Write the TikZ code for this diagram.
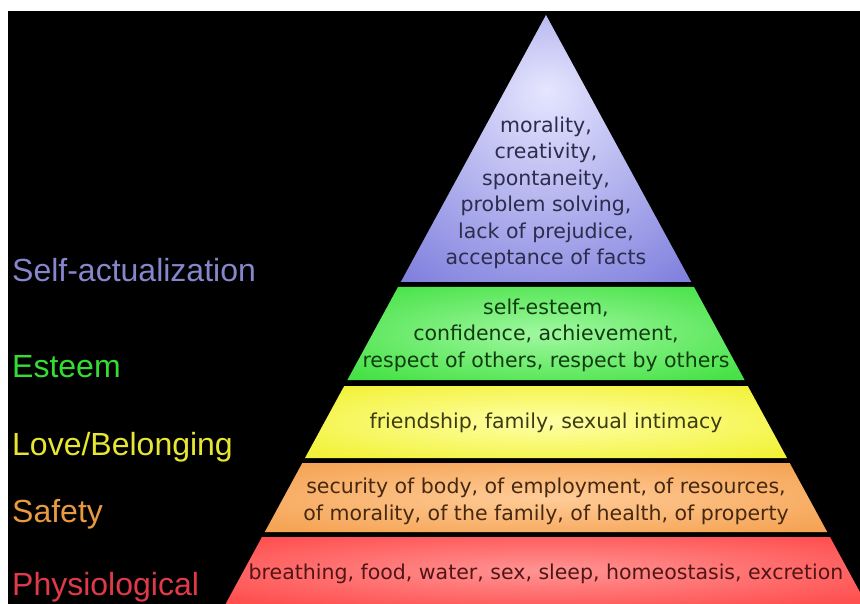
\documentclass[tikz,border=0pt]{standalone}
\usepackage{fontspec}
\setmainfont{DejaVu Sans}
\newfontfamily\labfont{Liberation Sans}
\definecolor{purin}{HTML}{E6E6FF}
\definecolor{purout}{HTML}{8080DE}
\definecolor{grnin}{HTML}{A0F8A0}
\definecolor{grnout}{HTML}{48E248}
\definecolor{yelin}{HTML}{FFFFA8}
\definecolor{yelout}{HTML}{F2F23A}
\definecolor{orgin}{HTML}{FFCC98}
\definecolor{orgout}{HTML}{F5A455}
\definecolor{redin}{HTML}{FF9494}
\definecolor{redout}{HTML}{FF5050}
\definecolor{purtxt}{HTML}{2C2C4C}
\definecolor{grntxt}{HTML}{103C10}
\definecolor{yeltxt}{HTML}{3C3C10}
\definecolor{orgtxt}{HTML}{45280F}
\definecolor{redtxt}{HTML}{501515}
\definecolor{labpur}{HTML}{8686CC}
\definecolor{labgrn}{HTML}{33DD33}
\definecolor{labyel}{HTML}{E6E633}
\definecolor{laborg}{HTML}{E89A40}
\definecolor{labred}{HTML}{E03A4A}
\pgfdeclareradialshading{shpur}{\pgfpoint{0bp}{11bp}}{color(0bp)=(purin); color(38bp)=(purout); color(70bp)=(purout)}
\pgfdeclareradialshading{shgrn}{\pgfpoint{0bp}{0bp}}{color(0bp)=(grnin); color(32bp)=(grnout); color(60bp)=(grnout)}
\pgfdeclareradialshading{shyel}{\pgfpoint{0bp}{0bp}}{color(0bp)=(yelin); color(32bp)=(yelout); color(60bp)=(yelout)}
\pgfdeclareradialshading{shorg}{\pgfpoint{0bp}{0bp}}{color(0bp)=(orgin); color(32bp)=(orgout); color(60bp)=(orgout)}
\pgfdeclareradialshading{shred}{\pgfpoint{0bp}{0bp}}{color(0bp)=(redin); color(32bp)=(redout); color(60bp)=(redout)}
\tikzset{
  ptext/.style={align=center, inner sep=0pt, font=\fontsize{20.5}{26.5}\selectfont},
  lab/.style={anchor=base west, inner sep=0pt, font=\labfont\fontsize{32}{38}\selectfont}
}
\begin{document}
\begin{tikzpicture}[x=1pt,y=-1pt]
\useasboundingbox (0,0) rectangle (860,604);
\fill[white] (0,0) rectangle (860,604);
\fill[black] (8,11) rectangle (860,604);
\begin{scope}
\clip (8,11) rectangle (860,604);
\shade[shading=shpur] (546,15) -- (691.2,282) -- (400.8,282) -- cycle;
\shade[shading=shgrn] (398,287) -- (694,287) -- (744.6,380) -- (347.4,380) -- cycle;
\shade[shading=shyel] (344.2,386) -- (747.8,386) -- (787,458) -- (305,458) -- cycle;
\shade[shading=shorg] (302.3,463) -- (789.7,463) -- (827.2,532) -- (264.8,532) -- cycle;
\shade[shading=shred] (262,537) -- (830,537) -- (866.4,604) -- (225.6,604) -- cycle;
\end{scope}
\node[ptext, text=purtxt] (tsa) at (546,193) {morality,\\creativity,\\spontaneity,\\problem solving,\\lack of prejudice,\\acceptance of facts};
\node[ptext, text=grntxt] (tes) at (546,335) {self-esteem,\\confidence, achievement,\\respect of others, respect by others};
\node[ptext, text=yeltxt] (tlb) at (546,423) {friendship, family, sexual intimacy};
\node[ptext, text=orgtxt] (tsf) at (546,501.5) {security of body, of employment, of resources,\\of morality, of the family, of health, of property};
\node[ptext, text=redtxt] (tph) at (546,574) {breathing, food, water, sex, sleep, homeostasis, excretion};
\node[lab, text=labpur] (lsa) at (12,282) {Self-actualization};
\node[lab, text=labgrn] (les) at (12,377) {Esteem};
\node[lab, text=labyel] (llb) at (12,455) {Love/Belonging};
\node[lab, text=laborg] (lsf) at (12,522) {Safety};
\node[lab, text=labred] (lph) at (12,595) {Physiological};
\end{tikzpicture}
\end{document}
